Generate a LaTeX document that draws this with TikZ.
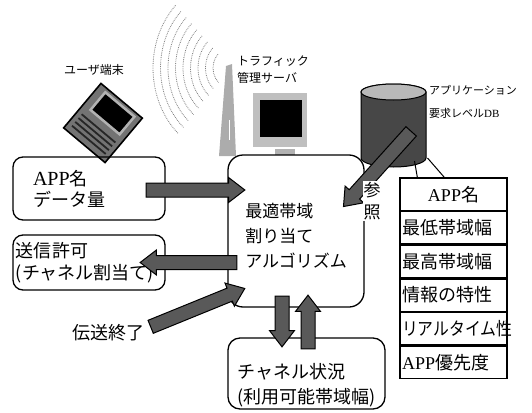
\documentclass[tikz,border=0pt]{standalone}
\usepackage{fontspec}
\usepackage{graphicx}
\setmainfont{Noto Sans CJK JP}
\newfontfamily\latin{Liberation Serif}
\usetikzlibrary{calc,positioning,shapes.arrows}

\tikzset{
  box/.style={draw, line width=1.3pt, rounded corners=10pt, inner sep=0pt},
  field/.style={draw, line width=1.3pt, minimum width=107pt, minimum height=32.3pt,
    inner sep=2pt, text width=103pt, align=left, font=\fontsize{18}{20}\selectfont},
  fat/.style={single arrow, draw, line width=1pt, fill=black!65, inner sep=6.5pt,
    single arrow head extend=5.5pt, single arrow tip angle=75, anchor=tail, minimum width=0pt},
  wave/.style={gray, densely dotted, line width=0.8pt},
  tag/.style={font=\fontsize{12}{17}\selectfont, inner sep=0pt, align=left},
}
% fat arrow from one named point to another
\newcommand\fatarrow[2]{%
  \path let \p1=(#1), \p2=(#2), \n1={atan2(\y2-\y1,\x2-\x1)},
    \n2={veclen(\x2-\x1,\y2-\y1)} in
    node[fat, rotate=\n1, minimum height=\n2] at (\p1) {};}

\begin{document}
\begin{tikzpicture}[x=1pt, y=-1pt]
\useasboundingbox (0,0) rectangle (532,412);

% radio waves and tower
\foreach \r in {17,24.5,...,77}
  \draw[wave] (230,68) ++(135:{\r pt} and {1.15*\r pt}) arc[start angle=135, end angle=228, x radius=\r pt, y radius=1.15*\r pt];
\fill[gray!65] (219,156) -- (226,66) -- (232,64) -- (236,156) -- cycle;
\draw[white, line width=1pt] (229,120) -- (229,140);

% server
\fill[gray!50] (253,93) rectangle (307,147);
\fill (260,100) rectangle (302,137);
\fill[gray!60] (275,149) rectangle (295,155);
\node[tag, anchor=west] (srvtag) at (237,70) {トラフィック\\管理サーバ};

% laptop
\begin{scope}[shift={(103,123)}, rotate=-40]
  \filldraw[fill=black!55, line width=1.6pt] (-27pt,-29pt) rectangle (27pt,29pt);
  \filldraw[draw=gray!60, line width=2.5pt, fill=black] (-18pt,2pt) rectangle (20pt,25pt);
  \foreach \k in {-7,-12,-17,-22}
    \draw[line width=1.8pt, black!85] (-22pt,\k pt) -- (22pt,\k pt);
\end{scope}
\node[tag] (ut) at (94,70) {ユーザ端末};

% database
\coordinate (db) at (393.5,125);
\filldraw[fill=black!72, line width=1pt] (361,92) -- (361,158)
  arc[start angle=180, end angle=360, x radius=32.5pt, y radius=9pt] -- (426,92)
  arc[start angle=0, end angle=180, x radius=32.5pt, y radius=8pt] -- cycle;
\filldraw[fill=gray!55, line width=1pt] (393.5,92) ellipse[x radius=32.5pt, y radius=8pt];
\node[tag, anchor=west, font=\fontsize{11}{23}\selectfont] (dbtag) at (429,101.5)
  {アプリケーション\\要求レベル{\latin DB}};

% table of requirements
\node[field, align=center] (f1) at (453.5,194.2) {{\latin APP}名};
\node[field, below=0pt of f1] (f2) {最低帯域幅};
\node[field, below=0pt of f2] (f3) {最高帯域幅};
\node[field, below=0pt of f3] (f4) {情報の特性};
\node[field, below=0pt of f4] (f5) {\scalebox{0.88}[1]{リアルタイム性}};
\node[field, below=0pt of f5] (f6) {{\latin APP}優先度};
\draw[line width=1pt] ($(db)+(21,36)$) -- ($(f1.north west)+(18,0)$);
\draw[line width=1pt] ($(db)+(34,33)$) -- ($(f1.north west)+(45,0)$);

% boxes
\node[box, rounded corners=15pt, minimum width=136pt, minimum height=152pt,
  label={[align=left, font=\fontsize{17}{25}\selectfont, yshift=-5pt]center:最適帯域\\割り当て\\アルゴリズム}]
  (alg) at (296,231) {};
\node[box, minimum width=152pt, minimum height=63pt, text width=112pt, align=left,
  font=\fontsize{18}{21}\selectfont] (app) at (89,188.5) {{\latin\fontsize{20}{21}\selectfont APP}名\\データ量};
\node[box, minimum width=152pt, minimum height=55pt, text width=146pt, align=left,
  font=\fontsize{18}{22}\selectfont] (send) at (89,262.5) {送信許可\\(チャネル割当て)};
\node[font=\fontsize{18}{20}\selectfont, inner sep=2pt] (done) at (108,333) {伝送終了};
\node[box, rounded corners=12pt, minimum width=157pt, minimum height=71pt,
  label={[align=left, font=\fontsize{18}{25}\selectfont, yshift=-12pt]center:チャネル状況\\(利用可能帯域幅)}]
  (chan) at (306.5,373.5) {};

% arrows
\coordinate (a1s) at ($(app.east)+(-20,1.5)$);
\coordinate (a1e) at ($(alg.west |- a1s)+(17,0)$);
\coordinate (a2s) at ($(alg.west |- send.east)+(10,0)$);
\coordinate (a2e) at ($(send.east)+(-25,0)$);
\coordinate (a3s) at ($(done.east)+(4,-6)$);
\coordinate (a3e) at ($(alg.south west)+(17,-19)$);
\coordinate (a4s) at ($(alg.south)+(-14,-12)$);
\coordinate (a4e) at ($(chan.north)+(-24.5,9)$);
\coordinate (a5s) at ($(chan.north)+(1.5,12)$);
\coordinate (a5e) at ($(alg.south)+(12,-12)$);
\coordinate (a6s) at ($(db)+(18,6)$);
\coordinate (a6e) at ($(alg.north east)+(-21,52)$);
\fatarrow{a1s}{a1e}
\fatarrow{a2s}{a2e}
\fatarrow{a3s}{a3e}
\fatarrow{a4s}{a4e}
\fatarrow{a5s}{a5e}
\fatarrow{a6s}{a6e}
\node[fill=white, inner sep=1pt, align=center, font=\fontsize{17}{22}\selectfont]
  (ref) at (372,201) {参\\照};
\end{tikzpicture}
\end{document}
